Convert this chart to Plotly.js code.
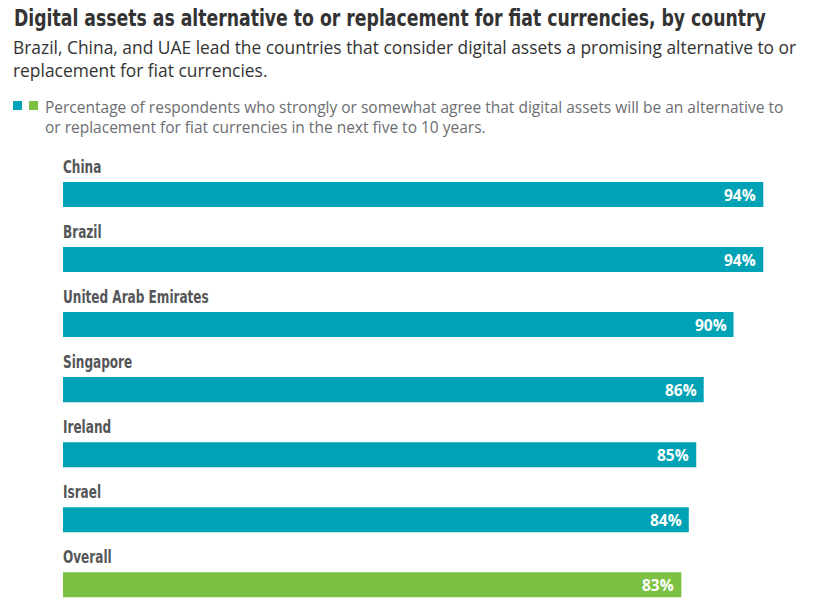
<!DOCTYPE html>
<html>
<head>
<meta charset="utf-8">
<script src="https://cdn.plot.ly/plotly-3.0.1.min.js"></script>
<style>html,body{margin:0;padding:0;background:#fff;}#chart{width:820px;height:614px;}</style>
</head>
<body>
<div id="chart"></div>
<script>
const categories = ["China", "Brazil", "United Arab Emirates", "Singapore", "Ireland", "Israel", "Overall"];
const values = [94, 94, 90, 86, 85, 84, 83];
const valueLabels = ["94%", "94%", "90%", "86%", "85%", "84%", "83%"];
const barColors = ["#00A3B5", "#00A3B5", "#00A3B5", "#00A3B5", "#00A3B5", "#00A3B5", "#7DC142"];

const titleText = "Digital assets as alternative to or replacement for fiat currencies, by country";
const subtitleLines = ["Brazil, China, and UAE lead the countries that consider digital assets a promising alternative to or", "replacement for fiat currencies."];
const legendLines = ["Percentage of respondents who strongly or somewhat agree that digital assets will be an alternative to", "or replacement for fiat currencies in the next five to 10 years."];

const W = 820, H = 614;
const M = {l: 63, r: 12, t: 149, b: 0};
const pw = W - M.l - M.r, ph = H - M.t - M.b;
const px = x => (x - M.l) / pw;
const py = y => (H - M.b - y) / ph;

const condensed = "'Liberation Sans Narrow', 'DejaVu Sans Condensed', sans-serif";
const openSans = "'Open Sans', 'Noto Sans', sans-serif";

const trace = {
  type: "bar",
  orientation: "h",
  x: values,
  y: categories,
  marker: {color: barColors},
  width: 0.385,
  hoverinfo: "none"
};

const annotations = [];
categories.forEach((c, i) => {
  annotations.push({
    x: 0, y: c, xref: "x", yref: "y", xanchor: "left", yanchor: "middle", align: "left",
    xshift: -2, yshift: 27.5, showarrow: false, text: "<b>" + c + "</b>",
    font: {family: condensed, size: 17, color: "#555658"}
  });
  annotations.push({
    x: values[i], y: c, xref: "x", yref: "y", xanchor: "right", yanchor: "middle",
    xshift: -5, showarrow: false, text: "<b>" + valueLabels[i] + "</b>",
    font: {family: openSans, size: 15.5, color: "#ffffff"}
  });
});
annotations.push({
  x: px(11), y: py(58.5), xref: "paper", yref: "paper", xanchor: "left", yanchor: "middle", align: "left",
  showarrow: false, text: subtitleLines.join("<br>"), font: {family: openSans, size: 17.4, color: "#333333"}
});
annotations.push({
  x: px(43), y: py(116.5), xref: "paper", yref: "paper", xanchor: "left", yanchor: "middle", align: "left",
  showarrow: false, text: legendLines.join("<br>"), font: {family: openSans, size: 15.5, color: "#6d6e71"}
});

const shapes = [
  {type: "rect", xref: "paper", yref: "paper", x0: px(13), x1: px(22), y0: py(110), y1: py(101), fillcolor: "#00A3B5", line: {width: 0}},
  {type: "rect", xref: "paper", yref: "paper", x0: px(29), x1: px(38), y0: py(110), y1: py(101), fillcolor: "#7DC142", line: {width: 0}}
];

const layout = {
  width: W, height: H,
  margin: M,
  paper_bgcolor: "#ffffff", plot_bgcolor: "#ffffff",
  showlegend: false,
  title: {
    text: "<b>" + titleText + "</b>",
    x: 14 / W, xanchor: "left", xref: "container",
    y: 1 - 18 / H, yanchor: "middle", yref: "container",
    font: {family: condensed, size: 22.5, color: "#333333"}
  },
  xaxis: {range: [0, 100], visible: false, fixedrange: true},
  yaxis: {type: "category", range: [6.45, -0.7], visible: false, fixedrange: true},
  annotations: annotations,
  shapes: shapes
};

function squeeze(el, targetWidth) {
  const w = el.getComputedTextLength();
  if (!w) return;
  const s = targetWidth / w;
  const x0 = parseFloat(el.getAttribute("x")) || 0;
  const prev = el.getAttribute("transform") || "";
  el.setAttribute("transform", prev + " translate(" + x0 + ",0) scale(" + s + ",1) translate(" + (-x0) + ",0)");
}

Plotly.newPlot("chart", [trace], layout, {displayModeBar: false, staticPlot: true}).then(gd => {
  // Emulate a condensed face: compress the condensed-bold texts horizontally, keeping their left edge.
  const t = gd.querySelector(".gtitle");
  if (t) squeeze(t, 752);
  const catSet = new Set(categories);
  gd.querySelectorAll(".annotation-text").forEach(el => {
    if (catSet.has(el.textContent)) squeeze(el, el.getComputedTextLength() * 0.79);
  });
});
</script>
</body>
</html>
